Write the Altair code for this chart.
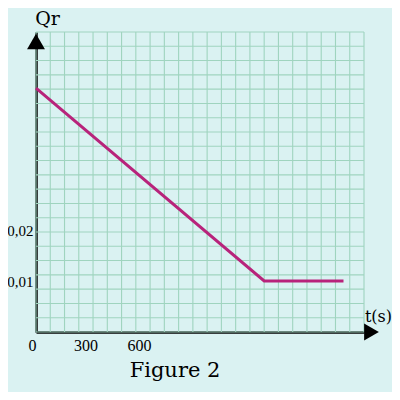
import altair as alt
import pandas as pd
import numpy as np

# Data
t_values = [0, 1280, 1725]          # time (s)
qr_values = [0.0478, 0.01, 0.01]    # Qr

x_tick_values = [0, 300, 600]
y_tick_values = [0.01, 0.02]

# Grid / frame styling
T_MAX = 1840
Q_MAX = 0.0588
T_STEP = 80
Q_STEP = 0.0028

line_df = pd.DataFrame({"t": t_values, "qr": qr_values})
vgrid = pd.DataFrame({"t": np.arange(0, T_MAX + 1, T_STEP), "qr": 0.0, "q1": Q_MAX})
hgrid = pd.DataFrame({"qr": [k * Q_STEP for k in range(22)], "t": 0, "t1": T_MAX})
arrow_x = pd.DataFrame({"t": [1882], "qr": [0.0]})
arrow_y = pd.DataFrame({"t": [0], "qr": [0.05696]})

xs = alt.Scale(domain=[0, T_MAX], nice=False, zero=True)
ys = alt.Scale(domain=[0, Q_MAX], nice=False, zero=True)

GRID = "#9fd4bf"
FONT = "DejaVu Serif"
LFONT = "Liberation Serif"

X_AXIS = alt.Axis(
    values=x_tick_values,
    ticks=False,
    tickSize=0,
    grid=False,
    domainColor="black",
    domainWidth=2.5,
    labelFont=LFONT,
    labelFontSize=16,
    labelColor="black",
    labelPadding=5,
    labelOffset=-4,
    labelFlush=False,
    title="t(s)",
    titleFont=FONT,
    titleFontSize=16,
    titleFontWeight="normal",
    titleColor="black",
    titleAngle=0,
    titleAlign="center",
    titleBaseline="middle",
    titleX=342,
    titleY=-16,
)
Y_AXIS = alt.Axis(
    values=y_tick_values,
    labelExpr="replace(format(datum.value, '.2f'), '.', ',')",
    ticks=False,
    tickSize=0,
    grid=False,
    domainColor="black",
    domainWidth=2.5,
    labelFont=LFONT,
    labelFontSize=15,
    labelColor="black",
    labelPadding=3,
    labelOffset=1,
    labelFlush=False,
    title="Qr",
    titleFont=FONT,
    titleFontSize=19,
    titleFontWeight="normal",
    titleColor="black",
    titleAngle=0,
    titleAlign="center",
    titleBaseline="middle",
    titleX=11,
    titleY=-14,
)

X = alt.X("t:Q", scale=xs, axis=X_AXIS, title="t(s)")
Y = alt.Y("qr:Q", scale=ys, axis=Y_AXIS, title="Qr")

vlines = alt.Chart(vgrid).mark_rule(color=GRID, strokeWidth=1.1).encode(
    x=X, y=Y, y2="q1:Q"
)
hlines = alt.Chart(hgrid).mark_rule(color=GRID, strokeWidth=1.1).encode(
    x=X, x2="t1:Q", y=Y
)
line = alt.Chart(line_df).mark_line(color="#b8237b", strokeWidth=3).encode(x=X, y=Y)

arr_x = alt.Chart(arrow_x).mark_point(
    shape="triangle-right", filled=True, color="black", size=290, opacity=1
).encode(x=X, y=Y)
arr_y = alt.Chart(arrow_y).mark_point(
    shape="triangle-up", filled=True, color="black", size=320, opacity=1
).encode(x=X, y=Y)

chart = (
    alt.layer(vlines, hlines, line, arr_x, arr_y)
    .properties(
        width=328,
        height=300,
        padding={"left": 28, "top": 24, "right": 28, "bottom": 60},
        autosize=alt.AutoSizeParams(type="none"),
        background="#daf2f2",
        title=alt.TitleParams(
            "Figure 2",
            orient="bottom",
            anchor="middle",
            frame="group",
            font=FONT,
            fontSize=21,
            fontWeight="normal",
            color="black",
            dx=-25,
            offset=7,
        ),
    )
    .configure_view(stroke=None)
)

chart.save("out.html", embed_options={"renderer": "svg", "actions": False})
